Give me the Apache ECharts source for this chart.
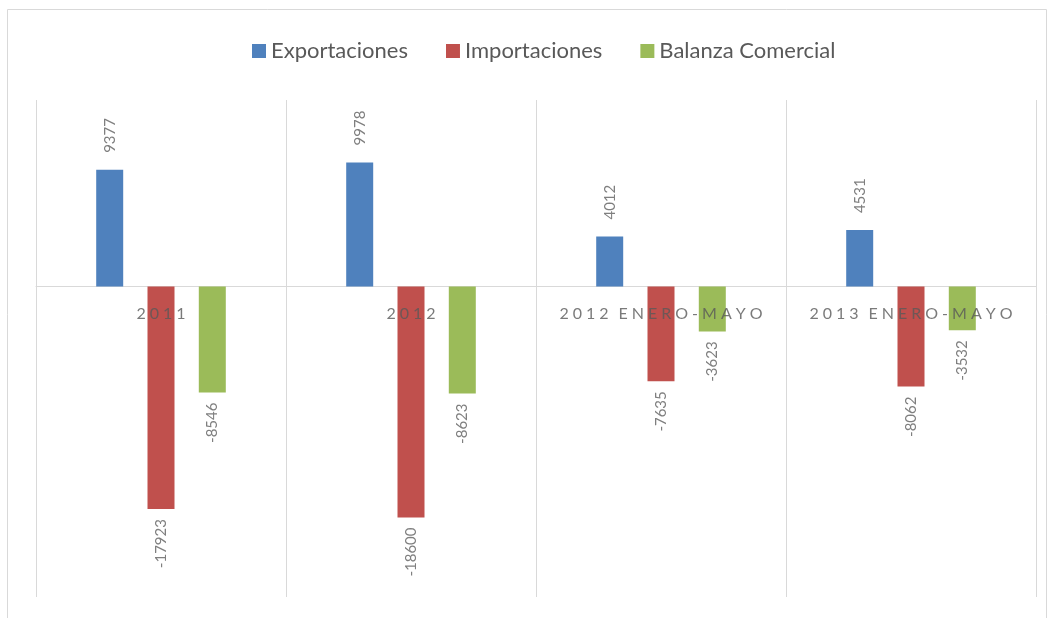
<!DOCTYPE html>
<html>
<head>
<meta charset="utf-8">
<script src="https://cdn.jsdelivr.net/npm/echarts@6/dist/echarts.min.js"></script>
<style>
html,body{margin:0;padding:0;background:#fff;}
#main{width:1054px;height:618px;}
</style>
</head>
<body>
<div id="main"></div>
<script>
var categories = ['2011', '2012', '2012 ENERO-MAYO', '2013 ENERO-MAYO'];
var exportaciones = [9377, 9978, 4012, 4531];
var importaciones = [-17923, -18600, -7635, -8062];
var balanza = [-8546, -8623, -3623, -3532];
var seriesNames = ['Exportaciones', 'Importaciones', 'Balanza Comercial'];

var myChart = echarts.init(document.getElementById('main'));

// etiqueta girada: arriba para positivos, abajo para negativos
function withLabels(arr) {
  return arr.map(function (v) {
    return {
      value: v,
      label: v >= 0
        ? { position: 'top', align: 'left', distance: 17 }
        : { position: 'bottom', align: 'right', distance: 10 }
    };
  });
}

function spaced(s) {
  return s.split('').map(function (ch) {
    return ch === ' ' ? '\u2009' : ch;
  }).join('\u2009\u2009');
}

var font = 'Lato, "Open Sans", sans-serif';
var barLabel = {
  show: true,
  rotate: 90,
  verticalAlign: 'middle',
  color: '#7f7f7f',
  fontSize: 15,
  fontFamily: font
};

var option = {
  animation: false,
  graphic: [{
    type: 'rect',
    shape: { x: 7.5, y: 9.5, width: 1039, height: 640 },
    style: { fill: 'none', stroke: '#d9d9d9', lineWidth: 1 },
    silent: true
  }],
  legend: {
    data: seriesNames,
    top: 35,
    left: 247,
    itemWidth: 14,
    itemHeight: 14,
    itemGap: 38,
    icon: 'rect',
    textStyle: { fontSize: 22, color: '#595959', fontFamily: font }
  },
  grid: { left: 36, right: 18, top: 100, bottom: 21, containLabel: false, outerBoundsMode: 'none' },
  xAxis: {
    type: 'category',
    data: categories,
    axisLine: { onZero: true, lineStyle: { color: '#d9d9d9', width: 1 } },
    axisTick: { show: false },
    splitLine: { show: true, lineStyle: { color: '#d9d9d9', width: 1 } },
    axisLabel: { show: false }
  },
  yAxis: {
    type: 'value',
    min: -25000,
    max: 15000,
    show: false,
    splitLine: { show: false }
  },
  series: [
    {
      name: seriesNames[0],
      type: 'bar',
      barWidth: 27,
      barGap: '90%',
      itemStyle: { color: '#4f81bd' },
      label: barLabel,
      data: withLabels(exportaciones)
    },
    {
      name: seriesNames[1],
      type: 'bar',
      barWidth: 27,
      barGap: '90%',
      itemStyle: { color: '#c0504d' },
      label: barLabel,
      data: withLabels(importaciones)
    },
    {
      name: seriesNames[2],
      type: 'bar',
      barWidth: 27,
      barGap: '90%',
      itemStyle: { color: '#9bbb59' },
      label: barLabel,
      data: withLabels(balanza)
    },
    {
      // nombres de categoría junto a la línea de cero
      name: 'categorias',
      type: 'scatter',
      symbolSize: 0,
      silent: true,
      z: 10,
      label: {
        show: true,
        position: 'bottom',
        distance: 19,
        fontSize: 16,
        color: '#595959',
        fontFamily: font,
        formatter: function (p) { return spaced(p.name); }
      },
      data: categories.map(function (c) { return [c, 0]; })
    }
  ]
};
myChart.setOption(option);
</script>
</body>
</html>
